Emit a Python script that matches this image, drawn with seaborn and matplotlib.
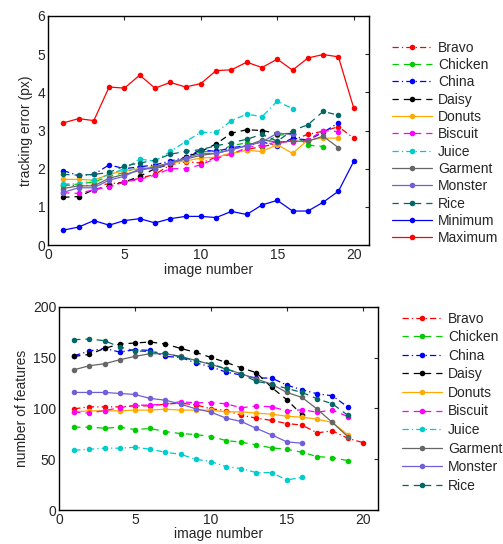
import matplotlib
matplotlib.use("Agg")
import matplotlib.pyplot as plt
import seaborn as sns
import numpy as np

# tracking error per image (px)
bravo_err = [1.58, 1.55, 1.57, 1.60, 1.65, 1.75, 1.85, 2.10, 2.18, 2.15, 2.30, 2.40, 2.50, 2.58, 2.65, 2.75, 2.90, 2.98, 3.10, 2.80]
chicken_err = [1.55, 1.60, 1.65, 1.80, 1.90, 2.05, 2.05, 2.15, 2.30, 2.45, 2.45, 2.60, 2.68, 2.60, 2.88, 2.90, 2.62, 2.58]
china_err = [1.95, 1.82, 1.85, 2.10, 2.00, 2.05, 2.10, 2.20, 2.30, 2.50, 2.45, 2.55, 2.60, 2.70, 2.60, 2.80, 2.75, 2.95, 3.20]
daisy_err = [1.25, 1.27, 1.45, 1.55, 1.65, 1.80, 2.00, 2.12, 2.30, 2.45, 2.65, 2.93, 3.02, 3.00, 2.92, 2.92]
donuts_err = [1.72, 1.72, 1.70, 1.85, 1.95, 2.00, 2.05, 2.15, 2.20, 2.28, 2.30, 2.40, 2.48, 2.45, 2.63, 2.40, 2.75, 2.80, 2.80]
biscuit_err = [1.37, 1.35, 1.45, 1.52, 1.65, 1.72, 1.83, 2.00, 2.00, 2.10, 2.27, 2.38, 2.55, 2.62, 2.70, 2.70, 2.75, 3.00, 2.97]
juice_err = [1.60, 1.60, 1.70, 1.85, 2.00, 2.25, 2.20, 2.45, 2.71, 2.95, 2.95, 3.26, 3.43, 3.36, 3.77, 3.57]
garment_err = [1.48, 1.55, 1.55, 1.75, 1.85, 1.95, 2.05, 2.15, 2.25, 2.35, 2.40, 2.50, 2.60, 2.75, 2.70, 2.72, 2.72, 2.85, 2.55]
monster_err = [1.38, 1.50, 1.50, 1.70, 1.80, 2.00, 2.00, 2.15, 2.28, 2.40, 2.40, 2.50, 2.60, 2.70, 2.93, 2.90]
rice_err = [1.85, 1.83, 1.85, 1.90, 2.07, 2.15, 2.22, 2.38, 2.45, 2.50, 2.60, 2.68, 2.77, 2.90, 2.72, 3.00, 3.15, 3.50, 3.40]
min_err = [0.39, 0.47, 0.64, 0.52, 0.64, 0.69, 0.58, 0.69, 0.75, 0.75, 0.72, 0.88, 0.80, 1.05, 1.17, 0.89, 0.89, 1.12, 1.41, 2.19]
max_err = [3.20, 3.31, 3.26, 4.14, 4.11, 4.45, 4.11, 4.26, 4.14, 4.23, 4.57, 4.59, 4.79, 4.65, 4.87, 4.58, 4.90, 4.99, 4.93, 3.59]

# number of features per image
bravo_feat = [99.7, 101.6, 101.6, 101.6, 102.6, 102.6, 104.3, 105.3, 103.6, 99.7, 98.0, 93.4, 90.5, 88.2, 85.2, 83.6, 76.0, 78.0, 70.7, 66.4]
chicken_feat = [81.6, 81.6, 80.6, 81.6, 79.3, 80.3, 77.3, 75.3, 74.3, 72.4, 68.4, 66.8, 64.1, 61.2, 59.9, 56.9, 52.6, 51.6, 48.7]
china_feat = [152.0, 156.6, 159.2, 155.6, 157.9, 157.2, 151.3, 150.3, 145.0, 141.0, 135.9, 132.9, 130.0, 130.0, 123.0, 118.4, 114.5, 112.5, 101.6]
daisy_feat = [151.3, 153.3, 159.2, 163.5, 164.5, 165.5, 163.5, 159.2, 155.3, 150.3, 145.4, 140.1, 135.2, 120.7, 108.6, 93.8]
donuts_feat = [96.7, 97.7, 97.7, 97.7, 98.4, 98.4, 99.3, 98.4, 98.4, 98.4, 96.7, 96.7, 95.4, 94.4, 92.4, 91.4, 89.5, 86.2, 74.3]
biscuit_feat = [96.4, 95.4, 98.0, 100.7, 103.3, 103.3, 104.6, 106.6, 105.6, 105.9, 104.6, 100.7, 102.6, 101.6, 97.7, 98.7, 96.4, 98.4, 92.1]
juice_feat = [58.9, 59.9, 60.9, 60.9, 61.8, 59.9, 56.9, 54.9, 50.0, 47.7, 42.8, 40.8, 36.8, 36.8, 29.6, 32.2]
garment_feat = [138.2, 142.1, 144.1, 148.0, 151.3, 154.0, 154.0, 151.3, 147.4, 143.4, 138.8, 134.2, 129.0, 124.0, 115.8, 110.9, 99.3, 86.2, 72.4]
monster_feat = [115.8, 115.8, 115.8, 114.8, 113.8, 109.9, 108.2, 104.3, 99.7, 96.4, 90.5, 87.2, 80.3, 74.0, 67.1, 65.8]
rice_feat = [167.8, 168.4, 166.8, 160.5, 156.9, 155.9, 154.6, 150.7, 147.0, 144.0, 139.0, 134.0, 126.6, 124.0, 119.7, 115.8, 109.5, 104.6, 93.4]

names = ['Bravo', 'Chicken', 'China', 'Daisy', 'Donuts', 'Biscuit', 'Juice', 'Garment', 'Monster', 'Rice', 'Minimum', 'Maximum']
colors = ['#ff0000', '#00cc00', '#0000ff', '#000000', '#ffaa00', '#ff00ff', '#00cccc', '#666666', '#7060d8', '#006666', '#0000ff', '#ff0000']
styles = ['-.', '--', '-.', '--', '-', '--', '-.', '-', '-', '--', '-', '-']

err_series = [bravo_err, chicken_err, china_err, daisy_err, donuts_err, biscuit_err, juice_err,
              garment_err, monster_err, rice_err, min_err, max_err]
feat_series = [bravo_feat, chicken_feat, china_feat, daisy_feat, donuts_feat, biscuit_feat, juice_feat,
               garment_feat, monster_feat, rice_feat]

sns.set_style("white")
plt.rcParams['font.family'] = ['Liberation Sans', 'DejaVu Sans']
plt.rcParams['xtick.direction'] = 'in'
plt.rcParams['ytick.direction'] = 'in'
plt.rcParams['lines.dashed_pattern'] = [5, 4]
plt.rcParams['lines.dashdot_pattern'] = [5, 2.5, 1, 2.5]

fig = plt.figure(figsize=(5.03, 5.44), dpi=100)
ax1 = fig.add_axes([0.0954, 0.5496, 0.6382, 0.4210])
ax2 = fig.add_axes([0.1173, 0.0625, 0.6342, 0.3732])

def draw(ax, series):
    for i, vals in enumerate(series):
        x = np.arange(1, len(vals) + 1)
        sns.lineplot(x=x, y=vals, ax=ax, color=colors[i], linestyle=styles[i], marker='o',
                     markersize=4, markeredgewidth=0, linewidth=0.9, label=names[i])

#top panel: tracking error
draw(ax1, err_series)
ax1.set_xlim(0, 21)
ax1.set_ylim(0, 6)
ax1.set_xticks([0, 5, 10, 15, 20])
ax1.set_yticks(range(0, 7))
ax1.set_xlabel('image number', fontsize=10, labelpad=1)
ax1.set_ylabel('tracking error (px)', fontsize=10, labelpad=3)
ax1.legend(loc='upper left', bbox_to_anchor=(1.053, 0.917), frameon=False, fontsize=10,
           handlelength=2.9, labelspacing=0.24, borderaxespad=0, handletextpad=0.45)

#bottom panel: number of features
draw(ax2, feat_series)
ax2.set_xlim(0, 21)
ax2.set_ylim(0, 200)
ax2.set_xticks([0, 5, 10, 15, 20])
ax2.set_yticks([0, 50, 100, 150, 200])
ax2.set_xlabel('image number', fontsize=10, labelpad=0)
ax2.set_ylabel('number of features', fontsize=10, labelpad=3)
ax2.legend(loc='upper left', bbox_to_anchor=(1.057, 1.005), frameon=False, fontsize=10,
           handlelength=2.9, labelspacing=0.33, borderaxespad=0, handletextpad=0.45)

for ax in (ax1, ax2):
    ax.tick_params(labelsize=10, length=3, top=True, right=True, pad=2)
    for s in ax.spines.values():
        s.set_color('black')
        s.set_linewidth(1.0)

plt.savefig('out.png', dpi=100)
